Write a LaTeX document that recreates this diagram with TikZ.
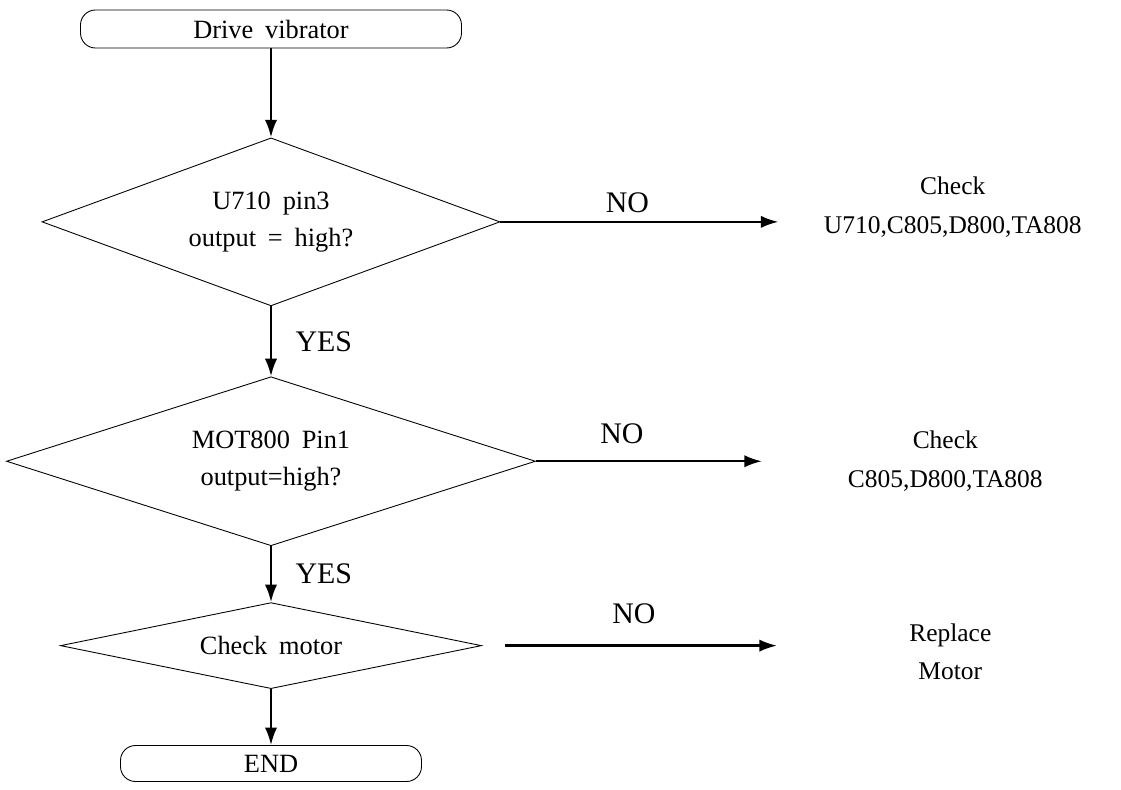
\documentclass[tikz,border=0pt]{standalone}
\usepackage{fontspec}
\setmainfont{Liberation Serif}[WordSpace=1.8]
\usetikzlibrary{arrows.meta,positioning,shapes.geometric}
\tikzset{
  term/.style={draw, line width=0.5pt, rounded corners=0.3cm, align=center, minimum width=7.62cm, minimum height=0.76cm, inner sep=0pt, font=\fontsize{15}{20}\selectfont},
  decision/.style={draw, diamond, line width=0.5pt, align=center, inner sep=0pt, font=\fontsize{15}{21}\selectfont},
  note/.style={align=center, inner sep=0pt, font=\fontsize{14.5}{22}\selectfont},
  arrow/.style={-{Latex[length=10pt,width=7pt]}, line width=1.3pt},
  answer/.style={font=\fontsize{17}{20}\selectfont}
}
\begin{document}
\begin{tikzpicture}
  \useasboundingbox (0,0) rectangle (22.42,-15.8);
  \node[term] (start) at (5.42,-0.58) {Drive vibrator};
  \node[decision, below=1.78cm of start, minimum width=9.16cm, minimum height=3.36cm, aspect=2.73] (pin3) {U710 pin3\\output = high?};
  \node[decision, below=1.4cm of pin3, minimum width=10.58cm, minimum height=3.38cm, aspect=3.13] (pin1) {MOT800 Pin1\\output=high?};
  \node[decision, below=1.12cm of pin1, minimum width=8.42cm, minimum height=1.72cm, aspect=4.9] (motor) {Check motor};
  \node[term, below=1.12cm of motor, minimum width=6.02cm, minimum height=0.72cm] (end) {END};

  \node[note, right=5.56cm of pin3, yshift=0.3cm, minimum width=6.96cm] (chk1) {Check\\U710,C805,D800,TA808};
  \node[note, right=4.52cm of pin1, minimum width=7.32cm] (chk2) {Check\\C805,D800,TA808};
  \node[note, right=5.9cm of motor, yshift=-0.12cm, minimum width=6.92cm] (repl) {Replace\\Motor};

  \draw[arrow] (start) -- (pin3);
  \draw[arrow] (pin3) -- node[answer, right=0.35cm]{YES} (pin1);
  \draw[arrow] (pin1) -- node[answer, right=0.35cm]{YES} (motor);
  \draw[arrow] (motor) -- (end);

  \draw[arrow] (pin3.east) -- node[answer, above=0.05cm, pos=0.457]{NO} (pin3.east -| chk1.west);
  \draw[arrow] (pin1.east) -- node[answer, above=0.2cm, pos=0.38]{NO} (pin1.east -| chk2.west);
  \draw[arrow, shorten <=0.46cm] (motor.east) -- node[answer, above=0.3cm, pos=0.515]{NO} (motor.east -| repl.west);
\end{tikzpicture}
\end{document}
